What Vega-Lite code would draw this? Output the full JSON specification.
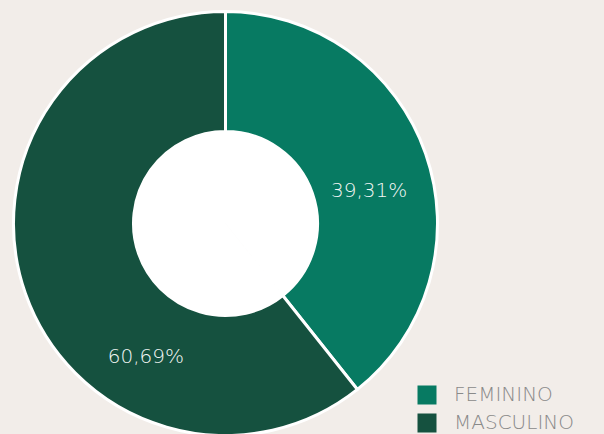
{
  "$schema": "https://vega.github.io/schema/vega-lite/v6.json",
  "width": 604,
  "height": 434,
  "autosize": {"type": "fit", "contains": "padding"},
  "padding": 0,
  "background": "#f2ede9",
  "config": {"view": {"stroke": null}},
  "data": {"values": [
    {"sexo": "FEMININO", "pct": 39.31, "label": "39,31%"},
    {"sexo": "MASCULINO", "pct": 60.69, "label": "60,69%"}
  ]},
  "encoding": {
    "theta": {"field": "pct", "type": "quantitative", "stack": true},
    "order": {"field": "sexo"}
  },
  "layer": [
    {
      "mark": {"type": "arc", "x": 225.5, "y": 223.5, "outerRadius": 93, "innerRadius": 0, "fill": "white", "stroke": "white", "strokeWidth": 1}
    },
    {
      "mark": {"type": "arc", "x": 225.5, "y": 223.5, "outerRadius": 212, "innerRadius": 92, "stroke": "white", "strokeWidth": 3},
      "encoding": {
        "color": {
          "field": "sexo", "type": "nominal",
          "scale": {"domain": ["FEMININO", "MASCULINO"], "range": ["#077a62", "#15513f"]},
          "legend": {
            "title": null, "orient": "none", "legendX": 417, "legendY": 385,
            "symbolType": "square", "symbolSize": 361, "symbolStrokeWidth": 0, "symbolOpacity": 1,
            "labelFont": "DejaVu Sans", "labelFontWeight": 200, "labelFontSize": 20, "labelColor": "#8a8a8a",
            "labelOffset": 17, "rowPadding": 8
          }
        }
      }
    },
    {
      "mark": {"type": "text", "x": 225.5, "y": 223.5, "radius": 150, "dx": 2, "dy": 17, "font": "DejaVu Sans", "fontWeight": 200, "fontSize": 20, "baseline": "middle", "align": "center"},
      "encoding": {
        "text": {"condition": {"test": "datum.sexo == 'FEMININO'", "field": "label"}, "value": ""},
        "color": {"value": "#f2f6f4"}
      }
    },
    {
      "mark": {"type": "text", "x": 225.5, "y": 223.5, "radius": 150, "dx": 62, "dy": 84, "font": "DejaVu Sans", "fontWeight": 200, "fontSize": 20, "baseline": "middle", "align": "center"},
      "encoding": {
        "text": {"condition": {"test": "datum.sexo == 'MASCULINO'", "field": "label"}, "value": ""},
        "color": {"value": "#f2f6f4"}
      }
    }
  ]
}
